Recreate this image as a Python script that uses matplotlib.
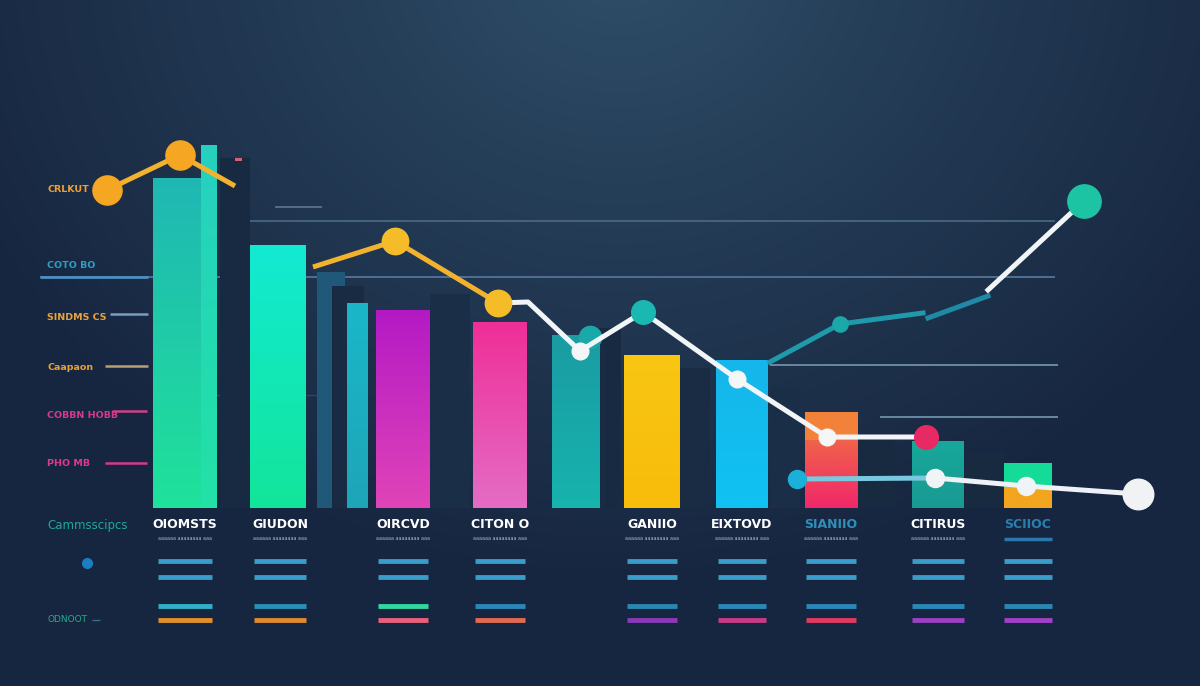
import numpy as np
import matplotlib
matplotlib.use('Agg')
import matplotlib.pyplot as plt
from matplotlib.colors import LinearSegmentedColormap, to_rgb

# --- data -------------------------------------------------------------
cats = ['OIOMSTS', 'GIUDON', '', 'OIRCVD', 'CITON O', '', 'GANIIO',
        'EIXTOVD', 'SIANIIO', 'CITIRUS', 'SCIIOC']
vals = [330, 263, 205, 198, 186, 173, 153, 148, 96, 67, 45]
tops = ['#1fb7b3', '#12ead2', '#1ab7c9', '#b41ac4', '#ef2f98', '#1a9ca3',
        '#f8c614', '#16b6ea', '#f07a3c', '#17a89a', '#f2a51e']
bots = ['#1fe29b', '#12e59a', '#1ea5b8', '#e044b8', '#e46cc4', '#17b3ad',
        '#f9bc0a', '#10c2f2', '#f0286a', '#199a92', '#f2a51e']

back_vals = [350, 236, 222, 214, 180, 140, 160, 120, 70, 55]
back_cols = ['#182a42', '#1f5878', '#182b43', '#1a2e47', '#182a42',
             '#1a2c44', '#1a2c44', '#1b2e47', '#182a40', '#182a40']

orange_a = [318, 353, 322]
orange_b = [241, 267, 205]
white_main = [205, 206, 157, 196, 129, 71, 71]
teal_up = [146, 184, 195]
teal_up2 = [190, 212]
white_up = [218, 307]
low_line = [29, 30, 22, 14]

left_labels = ['CRLKUT', 'COTO BO', 'SINDMS CS', 'Caapaon', 'COBBN HOBB', 'PHO MB']
left_vals = [318, 242, 190, 141, 92, 45]
left_cols = ['#f0a030', '#2f9ec0', '#e8a33a', '#e8a030', '#d63a8a', '#e0388a']

col_labels = ['OIOMSTS', 'GIUDON', 'OIRCVD', 'CITON O', 'GANIIO',
              'EIXTOVD', 'SIANIIO', 'CITIRUS', 'SCIIOC']
col_label_cols = ['w', 'w', 'w', 'w', 'w', 'w', '#2f8fb8', 'w', '#2a7fb0']
last_row_cols = ['#e0902a', '#e08a30', '#e8607a', '#e06a50', '#8a3ab8',
                 '#c83a88', '#e03a60', '#9a40c0', '#a040c8']
third_row_cols = ['#30b0c8', '#2a90b8', '#30d8a0', '#2a88b8', '#2a88b0',
                  '#2a88b8', '#2a88b8', '#2a88b8', '#2a88b0']

# --- layout -----------------------------------------------------------
bar_x = [185, 278, 357, 403, 500, 576, 652, 742, 831, 938, 1028]
bar_w = [64, 56, 21, 54, 54, 48, 56, 52, 53, 52, 48]
back_x = [235, 331, 348, 450, 610, 695, 600, 785, 875, 985]
back_w = [30, 28, 32, 40, 22, 30, 10, 30, 40, 40]
col_x = [185, 280, 403, 500, 652, 742, 831, 938, 1028]
col_w = [54, 52, 50, 50, 50, 48, 50, 52, 48]

fig = plt.figure(figsize=(12, 6.86), dpi=100)
ax = fig.add_axes([0, 0, 1, 1])
ax.set_xlim(0, 1200)
ax.set_ylim(-178, 508)
ax.set_axis_off()

# background radial gradient
gx, gy = np.meshgrid(np.linspace(0, 1200, 600), np.linspace(508, -178, 343))
d = np.sqrt(((gx - 620) / 720) ** 2 + ((gy - 560) / 640) ** 2)
d = np.clip(d, 0, 1) ** 0.9
c0, c1 = np.array(to_rgb('#30506a')), np.array(to_rgb('#172640'))
bg = c0[None, None, :] * (1 - d[..., None]) + c1[None, None, :] * d[..., None]
ax.imshow(bg, extent=(0, 1200, -178, 508), aspect='auto', zorder=0,
          interpolation='bilinear')


def grad_bar(x, w, h, ctop, cbot, z=3):
    b = ax.bar(x, h, width=w, bottom=0, color=ctop, zorder=z)[0]
    cm = LinearSegmentedColormap.from_list('g', [cbot, ctop])
    im = ax.imshow(np.linspace(0, 1, 64).reshape(-1, 1), cmap=cm,
                   extent=(x - w / 2, x + w / 2, 0, h), origin='lower',
                   aspect='auto', zorder=z, interpolation='bilinear')
    im.set_clip_path(b)
    return b


# grid-ish lines
ax.hlines(287, 220, 1055, color='#4c6a86', lw=1.2, zorder=1)
ax.hlines(301, 275, 322, color='#5a7896', lw=1.2, zorder=1)
ax.hlines(231, 40, 1055, color='#4f7092', lw=1.4, zorder=1)
ax.hlines(143, 770, 1058, color='#6a88a4', lw=1.4, zorder=1)
ax.hlines(91, 880, 1058, color='#6a88a4', lw=1.4, zorder=1)
ax.hlines(113, 200, 330, color='#2c4560', lw=1.0, zorder=1)
ax.hlines([194, 142, 97, 45], [110, 105, 112, 105], [148, 148, 147, 147],
          colors=['#7a9cc0', '#b8a070', '#d0408a', '#d63a8a'], lw=1.8, zorder=1)
ax.hlines(231, 40, 148, color='#4a8fbf', lw=2, zorder=1)

# back bars
for x, w, h, c in zip(back_x, back_w, back_vals, back_cols):
    ax.bar(x, h, width=w, color=c, zorder=2)
ax.bar(238, 3, width=7, bottom=347, color='#e05a70', zorder=2)

# front bars
for x, w, h, ct, cb in zip(bar_x, bar_w, vals, tops, bots):
    grad_bar(x, w, h, ct, cb)
# highlight sliver on the first bar and bands on two small bars
grad_bar(209, 16, 363, '#26d0c0', '#22e2a6', z=4)
ax.bar(831, 28, width=53, bottom=68, color='#f2823a', zorder=4)
ax.bar(1028, 24, width=48, bottom=21, color='#14dc98', zorder=4)

# lines
ax.plot([107, 180, 235], orange_a, color='#f2b22e', lw=3.6, zorder=6,
        solid_capstyle='butt')
ax.plot([107, 180], orange_a[:2], 'o', color='#f5a623', ms=21, zorder=7)
ax.plot([313, 395, 498], orange_b, color='#f2b22e', lw=3.6, zorder=6,
        solid_capstyle='butt')
ax.plot([395, 498], orange_b[1:], 'o', color='#f5bc2a', ms=19, zorder=7)

wx = [498, 528, 580, 643, 737, 827, 926]
ax.plot(wx, white_main, color='#f2f5f8', lw=3.6, zorder=6)
ax.plot([580, 737, 827], [white_main[2], white_main[4], white_main[5]], 'o',
        color='#f4f6f8', ms=12, zorder=7)
ax.plot([590], [171], 'o', color='#1aa8a8', ms=16, zorder=5)
ax.plot([643], [white_main[3]], 'o', color='#1ab8b0', ms=17, zorder=7)
ax.plot([926], [white_main[6]], 'o', color='#e82a64', ms=17, zorder=7)

ax.plot([770, 840, 923], teal_up, color='#1e9aaa', lw=3.6, zorder=6)
ax.plot([840], [teal_up[1]], 'o', color='#1aa8a8', ms=11, zorder=7)
ax.plot([928, 988], teal_up2, color='#1e8aa6', lw=3.6, zorder=6)
ax.plot([988, 1084], white_up, color='#f2f5f8', lw=3.6, zorder=6)
ax.plot([1084], [white_up[1]], 'o', color='#1cc4a4', ms=24, zorder=7)

lx = [797, 935, 1026, 1138]
ax.plot(lx[:2], low_line[:2], color='#7ac8e0', lw=3.6, zorder=6)
ax.plot(lx[1:], low_line[1:], color='#eef2f6', lw=3.6, zorder=6)
ax.plot([797], [low_line[0]], 'o', color='#1ab0d8', ms=13, zorder=7)
ax.plot(lx[1:3], low_line[1:3], 'o', color='#f0f4f6', ms=13, zorder=7)
ax.plot([1138], [low_line[3]], 'o', color='#f0f2f4', ms=22, zorder=7)

# left labels
for t, v, c in zip(left_labels, left_vals, left_cols):
    ax.text(47, v, t, color=c, fontsize=6.8, fontweight='bold',
            va='center', ha='left', zorder=8)
ax.text(47, -17, 'Cammsscipcs', color='#1fa89a', fontsize=8.5,
        va='center', ha='left', zorder=8)
ax.plot([87], [-55], 'o', color='#1a7ec0', ms=7, zorder=8)
ax.text(47, -112, 'ODNOOT', color='#1fb08a', fontsize=6.5,
        va='center', ha='left', zorder=8)
ax.hlines(-112, 92, 100, color='#3a6a8a', lw=1)

# bottom columns
for x, w, t, tc, c3, c4 in zip(col_x, col_w, col_labels, col_label_cols,
                               third_row_cols, last_row_cols):
    ax.text(x, -17, t, color=tc, fontsize=9, fontweight='bold',
            ha='center', va='center', zorder=8)
    if tc == '#2a7fb0':
        ax.hlines(-31, x - w / 2, x + w / 2, color='#2a78b0', lw=2.5)
    else:
        ax.text(x, -31, 'aaaaaa aaaaaaaa aaa', color='#aeb8c8', fontsize=3.5,
                ha='center', va='center', zorder=8)
    ax.hlines([-53, -69], x - w / 2, x + w / 2, color='#3a9cc8', lw=3.5)
    ax.hlines(-98, x - w / 2, x + w / 2, color=c3, lw=3.5)
    ax.hlines(-112, x - w / 2, x + w / 2, color=c4, lw=3.5)

fig.savefig('out.png', dpi=100)
